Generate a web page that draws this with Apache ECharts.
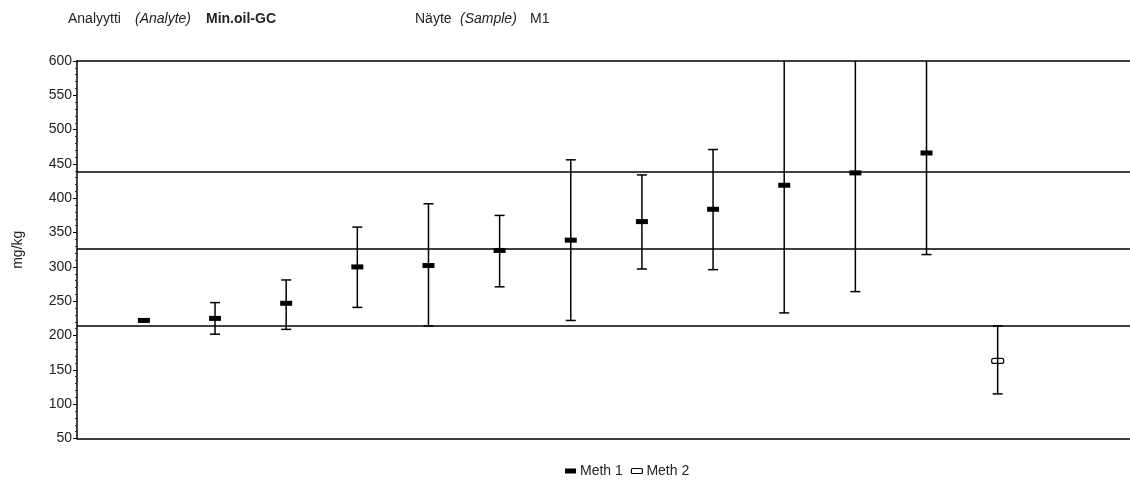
<!DOCTYPE html>
<html>
<head>
<meta charset="utf-8">
<script src="https://cdn.jsdelivr.net/npm/echarts@6/dist/echarts.min.js"></script>
<style>
  html, body { margin: 0; padding: 0; background: #fff; }
  #chart { width: 1130px; height: 485px; }
</style>
</head>
<body>
<div id="chart"></div>
<script>
// ---- data ----
const meth1Labs  = [1, 2, 3, 4, 5, 6, 7, 8, 9, 10, 11, 12];
const meth1Mean  = [222, 225, 247, 300, 302, 324, 339, 366, 384, 419, 437, 466];
const meth1Low   = [null, 202, 209, 241, 214, 271, 222, 297, 296, 233, 264, 318];
const meth1High  = [null, 248, 281, 358, 392, 375, 456, 434, 471, 620, 620, 620];

const meth2Labs  = [13];
const meth2Mean  = [163];
const meth2Low   = [115];
const meth2High  = [214];

const refLines   = [214, 326, 438];
const yTicks     = { min: 50, max: 600, step: 50 };

const headerParts = [
  { text: 'Analyytti',  style: 'normal' },
  { text: '(Analyte)',  style: 'italic' },
  { text: 'Min.oil-GC', style: 'bold' },
  { text: 'Näyte',      style: 'normal' },
  { text: '(Sample)',   style: 'italic' },
  { text: 'M1',         style: 'normal' }
];
const headerLeft = [68, 135, 206, 415, 460, 530];

const FONT = 'Liberation Sans, Arial, sans-serif';

function buildData(labs, mean, low, high) {
  return labs.map((l, i) => [l, mean[i], low[i] == null ? NaN : low[i], high[i] == null ? NaN : high[i]]);
}

function makeRender(hollow) {
  return function (params, api) {
    const xv = api.value(0), m = api.value(1), lo = api.value(2), hi = api.value(3);
    const cs = params.coordSys;
    const p = api.coord([xv, m]);
    const children = [];
    const capW = 10;
    if (isFinite(lo) && isFinite(hi)) {
      const pl = api.coord([xv, lo]);
      const ph = api.coord([xv, hi]);
      const topY = Math.max(ph[1], cs.y);
      const botY = Math.min(pl[1], cs.y + cs.height);
      children.push({ type: 'line', shape: { x1: p[0], y1: topY, x2: p[0], y2: botY },
        style: { stroke: '#000', lineWidth: 1.5 } });
      if (ph[1] >= cs.y) {
        children.push({ type: 'line', shape: { x1: p[0] - capW / 2, y1: ph[1], x2: p[0] + capW / 2, y2: ph[1] },
          style: { stroke: '#000', lineWidth: 1.5 } });
      }
      if (pl[1] <= cs.y + cs.height) {
        children.push({ type: 'line', shape: { x1: p[0] - capW / 2, y1: pl[1], x2: p[0] + capW / 2, y2: pl[1] },
          style: { stroke: '#000', lineWidth: 1.5 } });
      }
    }
    if (hollow) {
      children.push({ type: 'rect', shape: { x: p[0] - 6, y: p[1] - 2.5, width: 12, height: 5, r: 2 },
        style: { fill: 'transparent', stroke: '#000', lineWidth: 1.2 } });
    } else {
      children.push({ type: 'rect', shape: { x: p[0] - 6, y: p[1] - 2.5, width: 12, height: 5 },
        style: { fill: '#000' } });
    }
    return { type: 'group', children };
  };
}

const chart = echarts.init(document.getElementById('chart'), null, { renderer: 'canvas' });

const titles = headerParts.map((part, i) => ({
  left: headerLeft[i], top: 11, padding: 0,
  text: part.text,
  textStyle: {
    fontFamily: FONT,
    fontSize: 14,
    lineHeight: 16,
    color: '#222',
    fontWeight: part.style === 'bold' ? 'bold' : 'normal',
    fontStyle: part.style === 'italic' ? 'italic' : 'normal'
  }
}));

chart.setOption({
  animation: false,
  backgroundColor: '#fff',
  textStyle: { fontFamily: FONT },
  title: titles,
  legend: {
    left: 560, top: 459,
    itemWidth: 11, itemHeight: 5, itemGap: 8,
    textStyle: { fontFamily: FONT, fontSize: 14, color: '#222', padding: [0, 0, 0, -1] },
    data: [
      { name: 'Meth 1', icon: 'rect', itemStyle: { color: '#000' } },
      { name: 'Meth 2', icon: 'roundRect', itemStyle: { color: '#fff', borderColor: '#000', borderWidth: 1.2 } }
    ]
  },
  grid: { left: 77, right: 0, top: 61, bottom: 46.5, containLabel: false },
  xAxis: [
    {
      type: 'value', min: 0.06, max: 14.86,
      axisLine: { show: true, lineStyle: { color: '#000', width: 1.5 } },
      axisTick: { show: false }, axisLabel: { show: false }, splitLine: { show: false }
    },
    {
      type: 'value', position: 'top', min: 0.06, max: 14.86,
      axisLine: { show: true, lineStyle: { color: '#000', width: 1.5 } },
      axisTick: { show: false }, axisLabel: { show: false }, splitLine: { show: false }
    }
  ],
  yAxis: {
    type: 'value', min: yTicks.min, max: yTicks.max, interval: yTicks.step,
    name: 'mg/kg', nameLocation: 'middle', nameGap: 52, nameRotate: 90,
    nameTextStyle: { fontFamily: FONT, fontSize: 14, color: '#222' },
    axisLine: { show: true, lineStyle: { color: '#000', width: 1.5 } },
    axisTick: { show: true, inside: false, length: 4, lineStyle: { color: '#000', width: 1 } },
    minorTick: { show: true, splitNumber: 5, length: 2, lineStyle: { color: '#333', width: 1 } },
    axisLabel: { fontFamily: FONT, fontSize: 14, color: '#222', margin: 5 },
    splitLine: { show: false }
  },
  series: [
    {
      name: 'Meth 1', type: 'custom', xAxisIndex: 0,
      dimensions: ['x', 'mean', 'low', 'high'],
      encode: { x: 0, y: 1 },
      itemStyle: { color: '#000' },
      renderItem: makeRender(false),
      data: buildData(meth1Labs, meth1Mean, meth1Low, meth1High),
      markLine: {
        silent: true, symbol: ['none', 'none'],
        label: { show: false },
        lineStyle: { color: '#000', width: 1.5, type: 'solid' },
        data: refLines.map(v => ({ yAxis: v }))
      },
      z: 3
    },
    {
      name: 'Meth 2', type: 'custom', xAxisIndex: 0,
      dimensions: ['x', 'mean', 'low', 'high'],
      encode: { x: 0, y: 1 },
      itemStyle: { color: '#fff', borderColor: '#000' },
      renderItem: makeRender(true),
      data: buildData(meth2Labs, meth2Mean, meth2Low, meth2High),
      z: 3
    }
  ]
});
</script>
</body>
</html>
